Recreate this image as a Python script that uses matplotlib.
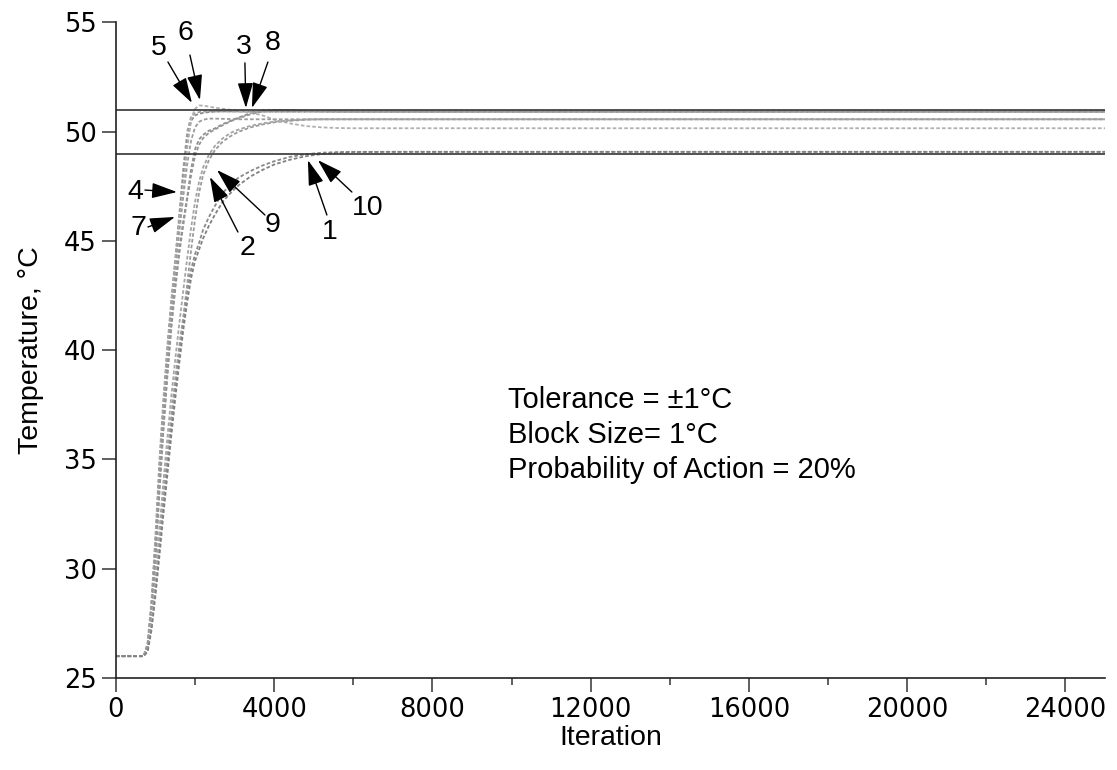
import matplotlib.pyplot as plt

# iteration grid shared by all ten runs
iters = [0, 700, 800, 900, 1000, 1100, 1200, 1300, 1400, 1500, 1600, 1700, 1800, 1900,
         2000, 2100, 2200, 2350, 2500, 2700, 2900, 3100, 3400, 3700, 4000, 4400, 4800,
         5200, 5600, 6000, 7000, 25000]

temp_1 = [26, 26, 26.3, 27.4, 29.1, 31.0, 32.9, 34.8, 36.6, 38.3, 39.9, 41.3, 42.7, 43.7,
          44.4, 44.9, 45.5, 46.1, 46.6, 47.2, 47.6, 47.9, 48.2, 48.45, 48.65, 48.85, 48.97,
          49.04, 49.07, 49.08, 49.08, 49.08]
temp_2 = [26, 26, 26.3, 27.5, 29.3, 31.3, 33.3, 35.2, 37.0, 38.7, 40.2, 41.5, 43.0, 44.6,
          46.0, 47.2, 48.0, 48.7, 49.15, 49.55, 49.8, 50.0, 50.2, 50.33, 50.43, 50.5, 50.55,
          50.57, 50.57, 50.57, 50.57, 50.57]
temp_3 = [26, 26, 26.4, 28.0, 30.6, 33.7, 36.5, 39.0, 41.2, 43.0, 44.6, 45.9, 47.0, 48.3,
          49.2, 49.65, 49.85, 50.05, 50.15, 50.35, 50.5, 50.65, 50.85, 50.97, 51.0, 50.98, 50.95,
          50.93, 50.92, 50.92, 50.92, 50.92]
temp_4 = [26, 26, 26.6, 28.6, 31.6, 35.0, 37.8, 40.2, 42.3, 44.2, 46.2, 48.3, 50.0, 50.7,
          50.85, 50.9, 50.92, 50.93, 50.93, 50.93, 50.92, 50.92, 50.92, 50.92, 50.92, 50.92, 50.92,
          50.92, 50.92, 50.92, 50.92, 50.92]
temp_5 = [26, 26, 26.5, 28.4, 31.3, 34.6, 37.5, 40.0, 42.2, 44.1, 46.0, 47.9, 49.6, 50.5,
          50.75, 50.82, 50.86, 50.9, 50.92, 50.93, 50.93, 50.93, 50.92, 50.92, 50.92, 50.92, 50.92,
          50.92, 50.92, 50.92, 50.92, 50.92]
temp_6 = [26, 26, 26.5, 28.3, 31.2, 34.5, 37.4, 39.9, 42.1, 44.0, 45.8, 47.5, 49.2, 50.6,
          51.05, 51.2, 51.2, 51.15, 51.1, 51.05, 51.0, 50.95, 50.88, 50.75, 50.55, 50.38, 50.26,
          50.2, 50.17, 50.16, 50.16, 50.16]
temp_7 = [26, 26, 26.5, 28.2, 30.9, 34.2, 37.0, 39.5, 41.7, 43.6, 45.4, 47.0, 48.5, 49.6,
          50.2, 50.45, 50.55, 50.6, 50.6, 50.59, 50.58, 50.57, 50.57, 50.57, 50.57, 50.57, 50.57,
          50.57, 50.57, 50.57, 50.57, 50.57]
temp_8 = [26, 26, 26.4, 27.9, 30.4, 33.5, 36.3, 38.8, 41.0, 42.8, 44.4, 45.7, 46.9, 48.0,
          48.9, 49.4, 49.7, 49.95, 50.1, 50.3, 50.48, 50.62, 50.8, 50.93, 50.98, 50.98, 50.96,
          50.94, 50.93, 50.92, 50.92, 50.92]
temp_9 = [26, 26, 26.3, 27.6, 29.6, 31.8, 34.0, 36.0, 37.9, 39.6, 41.2, 42.7, 44.2, 45.6,
          46.8, 47.7, 48.35, 48.95, 49.35, 49.7, 49.95, 50.1, 50.27, 50.38, 50.46, 50.52, 50.56,
          50.57, 50.57, 50.57, 50.57, 50.57]
temp_10 = [26, 26, 26.2, 27.2, 28.8, 30.6, 32.5, 34.3, 36.1, 37.8, 39.4, 40.9, 42.2, 43.3,
           44.1, 44.6, 45.1, 45.7, 46.2, 46.8, 47.2, 47.55, 47.95, 48.25, 48.5, 48.72, 48.88,
           48.98, 49.04, 49.07, 49.08, 49.08]

setpoint = 50
tolerance = 1

runs = [temp_1, temp_2, temp_3, temp_4, temp_5, temp_6, temp_7, temp_8, temp_9, temp_10]
greys = ['#8a8a8a', '#9a9a9a', '#909090', '#a0a0a0', '#8e8e8e',
         '#b0b0b0', '#9c9c9c', '#959595', '#a5a5a5', '#808080']

plt.rcParams['font.family'] = 'DejaVu Sans'
lab = 'Liberation Sans'

fig = plt.figure(figsize=(11.17, 7.70), dpi=100)
ax = fig.add_axes([0.1038, 0.1195, 0.8855, 0.8513])

for t, c in zip(runs, greys):
    ax.plot(iters, t, color=c, lw=1.3, ls=(0, (2, 1.2)))

ax.axhline(setpoint + tolerance, color='#333333', lw=1.2)
ax.axhline(setpoint - tolerance, color='#333333', lw=1.2)

ax.set_xlim(0, 25000)
ax.set_ylim(25, 55)
ax.set_xticks(range(0, 25000, 4000))
ax.set_xticks(range(2000, 25000, 4000), minor=True)
ax.set_yticks(range(25, 56, 5))
ax.tick_params(axis='both', which='major', length=10, width=1.2, direction='out',
               labelsize=18.5, color='#444444', pad=4)
ax.tick_params(axis='x', which='minor', length=5, width=1.2, color='#444444')
for s in ['top', 'right']:
    ax.spines[s].set_visible(False)
for s in ['left', 'bottom']:
    ax.spines[s].set_linewidth(1.2)
    ax.spines[s].set_color('#222222')

ax.set_xlabel('Iteration', family=lab, fontsize=20.5, labelpad=1)
ax.set_ylabel('Temperature, °C', family=lab, fontsize=20.5, labelpad=14)

arrow = dict(arrowstyle='-|>,head_length=1.3,head_width=0.4', color='black', lw=1,
             mutation_scale=12, shrinkA=0, shrinkB=0)
notes = [('5', (1087, 53.85), (1314, 53.19), (1920, 51.32)),
         ('6', (1769, 54.5), (1870, 53.51), (2123, 51.45)),
         ('3', (3235, 53.9), (3260, 53.15), (3285, 51.09)),
         ('8', (3967, 54.05), (3841, 53.19), (3437, 51.09)),
         ('4', (480, 47.24), (733, 47.33), (1541, 47.24)),
         ('7', (556, 45.6), (809, 45.64), (1491, 46.1)),
         ('2', (3336, 44.68), (3083, 45.41), (2375, 47.93)),
         ('9', (3967, 45.73), (3765, 46.19), (2552, 48.25)),
         ('1', (5408, 45.41), (5332, 46.19), (4852, 48.7)),
         ('10', (6368, 46.51), (5964, 47.24), (5105, 48.7))]
for txt, pos, tail, tip in notes:
    ax.text(pos[0], pos[1], txt, family=lab, fontsize=20.5, ha='center', va='center')
    ax.annotate('', xy=tip, xytext=tail, arrowprops=arrow)

ax.text(9906, 37.7, 'Tolerance = ±1°C', family=lab, fontsize=21, va='center')
ax.text(9906, 36.1, 'Block Size= 1°C', family=lab, fontsize=21, va='center')
ax.text(9906, 34.5, 'Probability of Action = 20%', family=lab, fontsize=21, va='center')

fig.savefig('out.png', dpi=100)
